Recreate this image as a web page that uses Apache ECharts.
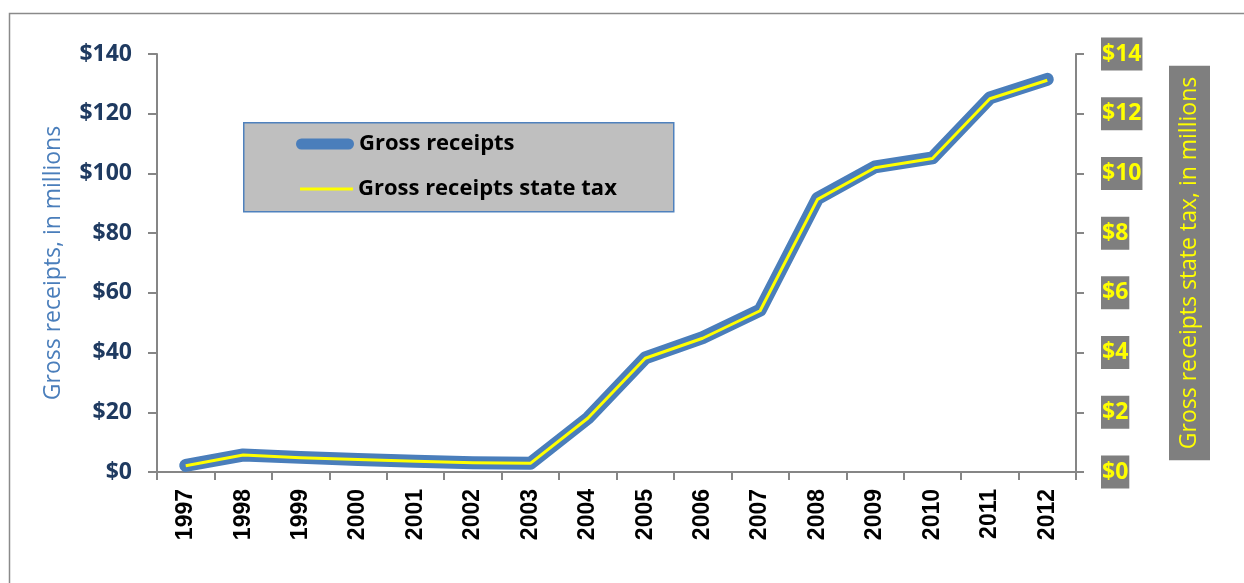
<!DOCTYPE html>
<html>
<head>
<meta charset="utf-8">
<script src="https://cdn.jsdelivr.net/npm/echarts@6/dist/echarts.min.js"></script>
<style>
html,body{margin:0;padding:0;background:#fff;}
#chart{width:1244px;height:583px;}
</style>
</head>
<body>
<div id="chart"></div>
<script>
const years = ['1997','1998','1999','2000','2001','2002','2003','2004','2005','2006','2007','2008','2009','2010','2011','2012'];
const grossReceipts = [2.2, 5.7, 4.9, 4.2, 3.6, 3.1, 2.9, 18.0, 38.2, 45.0, 54.2, 91.6, 102.2, 105.2, 125.3, 131.5];
const stateTax = [0.21, 0.57, 0.48, 0.42, 0.36, 0.31, 0.29, 1.80, 3.81, 4.48, 5.40, 9.13, 10.19, 10.50, 12.50, 13.12];
const leftTicks = { min: 0, max: 140, interval: 20 };
const rightTicks = { min: 0, max: 14, interval: 2 };

const axisGray = '#868686';
const chart = echarts.init(document.getElementById('chart'));
chart.setOption({
  animation: false,
  grid: { left: 157, right: 168, top: 54, bottom: 111 },
  graphic: [
    { type: 'rect', left: 7, top: 11, z: 0,
      shape: { width: 1300, height: 700 },
      style: { fill: 'none', stroke: '#8a8a8a', lineWidth: 1.5 } },
    { type: 'rect', left: 243, top: 122, z: 1,
      shape: { width: 430, height: 89 },
      style: { fill: '#BFBFBF', stroke: '#4F81BD', lineWidth: 1.5 } }
  ],
  legend: [
    { data: [{ name: 'Gross receipts', icon: 'path://M5.5,0H52.5A5.5,5.5,0,0,1,52.5,11H5.5A5.5,5.5,0,0,1,5.5,0Z' }],
      left: 296, top: 131, padding: 0, itemWidth: 58, itemHeight: 11, z: 5,
      itemStyle: { borderWidth: 0 },
      textStyle: { fontFamily: 'Open Sans', fontWeight: 'bold', fontSize: 22, color: '#000', lineHeight: 26 } },
    { data: [{ name: 'Gross receipts state tax', icon: 'rect' }],
      left: 300, top: 176, padding: 0, itemWidth: 53, itemHeight: 3, z: 5,
      itemStyle: { borderWidth: 0 },
      textStyle: { fontFamily: 'Open Sans', fontWeight: 'bold', fontSize: 22, color: '#000', lineHeight: 26 } }
  ],
  xAxis: {
    type: 'category', data: years,
    axisLine: { lineStyle: { color: axisGray, width: 2 } },
    axisTick: { show: true, length: 8, lineStyle: { color: axisGray, width: 2 } },
    axisLabel: { rotate: 90, interval: 0, margin: 17, color: '#000', fontFamily: 'Liberation Sans', fontWeight: 'bold', fontSize: 23 }
  },
  yAxis: [
    { type: 'value', position: 'left', min: leftTicks.min, max: leftTicks.max, interval: leftTicks.interval,
      name: 'Gross receipts, in millions', nameLocation: 'middle', nameRotate: 90, nameGap: 92,
      nameTextStyle: { fontFamily: 'Open Sans', fontSize: 23, color: '#4A7EBB' },
      splitLine: { show: false },
      axisLine: { show: true, lineStyle: { color: axisGray, width: 2 } },
      axisTick: { show: true, length: 9, lineStyle: { color: axisGray, width: 2 } },
      axisLabel: { margin: 25, color: '#1F3A60', fontFamily: 'Open Sans', fontWeight: 'bold', fontSize: 23,
        formatter: v => '$' + v } },
    { type: 'value', position: 'right', min: rightTicks.min, max: rightTicks.max, interval: rightTicks.interval,
      name: 'Gross receipts state tax, in millions', nameLocation: 'middle', nameRotate: 90, nameGap: 93,
      nameTextStyle: { fontFamily: 'Open Sans', fontSize: 23, color: '#FFFF00', backgroundColor: '#7F7F7F',
        padding: [6, 11, 6, 11], lineHeight: 29 },
      splitLine: { show: false },
      axisLine: { show: true, lineStyle: { color: axisGray, width: 2 } },
      axisTick: { show: true, length: 8, lineStyle: { color: axisGray, width: 2 } },
      axisLabel: { margin: 25, color: '#FFFF00', fontFamily: 'Open Sans', fontWeight: 'bold', fontSize: 23,
        backgroundColor: '#7F7F7F', padding: [4, 1, 3, 1], lineHeight: 26,
        formatter: v => '$' + v } }
  ],
  series: [
    { name: 'Gross receipts', type: 'line', yAxisIndex: 0, data: grossReceipts,
      symbol: 'none', z: 2,
      itemStyle: { color: '#4A7EBB' },
      lineStyle: { color: '#4A7EBB', width: 13, cap: 'round', join: 'round' } },
    { name: 'Gross receipts state tax', type: 'line', yAxisIndex: 1, data: stateTax,
      symbol: 'none', z: 3,
      itemStyle: { color: '#FFFF00' },
      lineStyle: { color: '#FFFF00', width: 3, cap: 'butt', join: 'round' } }
  ]
});
</script>
</body>
</html>
